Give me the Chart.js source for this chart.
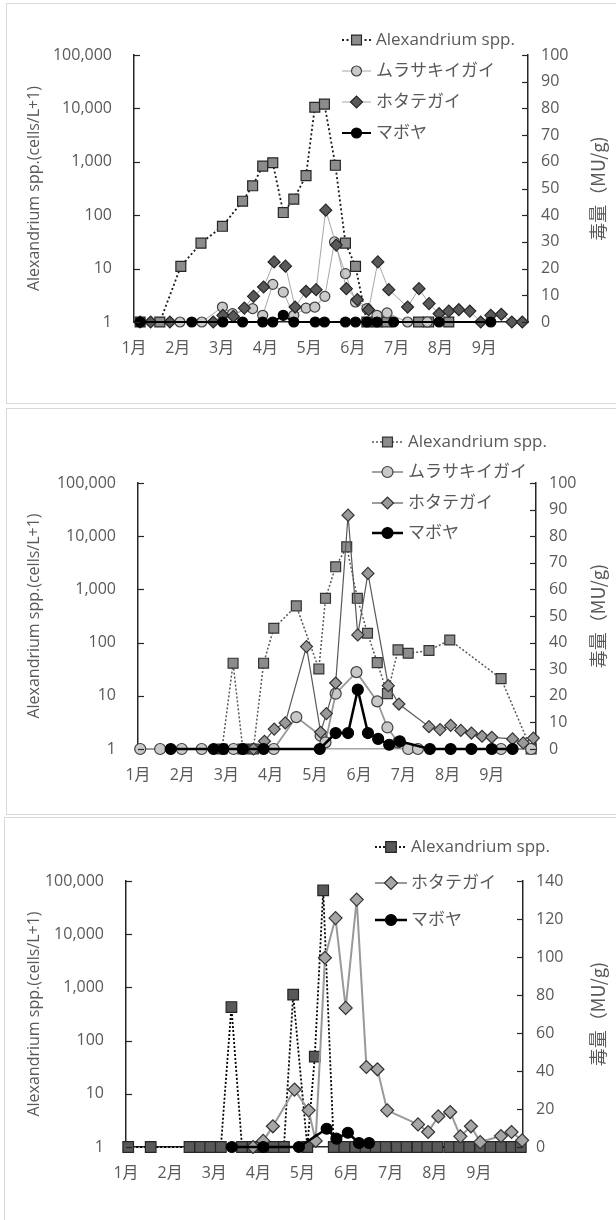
<!DOCTYPE html>
<html lang="ja">
<head>
<meta charset="utf-8">
<title>Alexandrium spp. と貝毒量</title>
<script src="https://cdn.jsdelivr.net/npm/chart.js@4.4.1/dist/chart.umd.min.js"></script>
<style>
  html, body { margin: 0; padding: 0; background: #fff; }
  body { width: 616px; height: 1220px; position: relative; overflow: hidden; }
  .panel { position: absolute; border: 1px solid #d9d9d9; box-sizing: border-box; }
  canvas { position: absolute; left: 0; }
</style>
</head>
<body>
<div class="panel" style="left:6px;top:3px;width:620px;height:401px"></div>
<div class="panel" style="left:6px;top:408px;width:620px;height:407px"></div>
<div class="panel" style="left:4px;top:817px;width:620px;height:410px"></div>
<canvas id="c1" style="top:0px" width="616" height="405"></canvas>
<canvas id="c2" style="top:405px" width="616" height="410"></canvas>
<canvas id="c3" style="top:815px" width="616" height="405"></canvas>
<script>
// 目盛り
const monthTicks = [1, 2, 3, 4, 5, 6, 7, 8, 9];
const monthLabels = ["1月", "2月", "3月", "4月", "5月", "6月", "7月", "8月", "9月"];
const cellTicks = [1, 10, 100, 1000, 10000, 100000];
const toxinTicksA = [0, 10, 20, 30, 40, 50, 60, 70, 80, 90, 100];
const toxinTicksB = [0, 20, 40, 60, 80, 100, 120, 140];

// 上段
const p1AlexMonth = [1.14, 1.59, 2.07, 2.53, 3.02, 3.48, 3.71, 3.94, 4.17, 4.41, 4.65, 4.93, 5.13, 5.35, 5.60, 5.83, 6.06, 6.32, 6.55, 6.78, 7.50, 7.73, 8.19];
const p1AlexCells = [1, 1, 11, 30, 62, 183, 355, 830, 960, 112, 200, 550, 10500, 12000, 860, 30, 11, 1, 1, 1, 1, 1, 1];
const p1MusselMonth = [2.05, 2.55, 3.02, 3.25, 3.71, 3.94, 4.17, 4.41, 4.65, 4.93, 5.13, 5.36, 5.58, 5.83, 6.06, 6.32, 6.55, 6.78, 7.25, 7.70];
const p1MusselTox = [0, 0, 5.6, 3.1, 5.0, 2.5, 14.1, 11.2, 2.5, 5.2, 5.6, 9.6, 30, 18.1, 7.5, 5, 2.5, 3.4, 0, 0];
const p1ScallopMonth = [1.14, 1.38, 1.82, 2.81, 3.03, 3.27, 3.52, 3.73, 3.96, 4.20, 4.46, 4.68, 4.93, 5.16, 5.38, 5.62, 5.85, 6.10, 6.36, 6.57, 6.82, 7.25, 7.51, 7.74, 7.97, 8.19, 8.42, 8.67, 8.92, 9.15, 9.39, 9.63, 9.87];
const p1ScallopTox = [0, 0, 0, 0, 2.5, 2.1, 5.2, 9.6, 13.1, 22.5, 20.9, 5.6, 11.5, 12.1, 41.9, 28.8, 12.5, 8.4, 4.6, 22.5, 12.1, 5.6, 12.5, 6.9, 3.1, 4.1, 4.6, 4.1, 0, 2.5, 2.9, 0, 0];
const p1AscidianMonth = [1.14, 2.32, 3.03, 3.48, 3.94, 4.17, 4.41, 4.65, 5.14, 5.35, 5.83, 6.06, 6.32, 6.55, 6.93, 7.97, 9.15];
const p1AscidianTox = [0, 0, 0, 0, 0, 0, 2.5, 0, 0, 0, 0, 0, 0, 0, 0, 0, 0];

// 中段
const p2AlexMonth = [2.90, 3.15, 3.37, 3.61, 3.84, 4.07, 4.58, 5.09, 5.24, 5.47, 5.72, 5.96, 6.19, 6.41, 6.64, 6.88, 7.11, 7.58, 8.05, 9.21, 9.89];
const p2AlexCells = [1, 41, 1, 1, 41, 186, 490, 32, 680, 2660, 6300, 680, 150, 42, 11, 73, 63, 71, 112, 21, 1];
const p2MusselMonth = [1.05, 1.50, 1.99, 2.44, 3.16, 3.61, 4.07, 4.58, 5.13, 5.24, 5.47, 5.94, 6.41, 6.64, 6.88, 7.11, 7.33, 9.21, 9.89];
const p2MusselTox = [0, 0, 0, 0, 0, 0, 0, 12, 5, 2.5, 20.8, 28.9, 17.9, 8.1, 2.5, 0, 0, 0, 0];
const p2ScallopMonth = [3.61, 3.86, 4.08, 4.33, 4.81, 5.13, 5.26, 5.47, 5.75, 5.97, 6.20, 6.66, 6.90, 7.58, 7.83, 8.07, 8.30, 8.54, 8.78, 9.00, 9.47, 9.71, 9.94];
const p2ScallopTox = [0, 2.9, 7.5, 9.8, 38.5, 6.3, 13.3, 24.8, 87.9, 42.9, 66, 23.8, 16.9, 8.4, 7.3, 8.9, 7, 6, 4.8, 4.4, 3.8, 2.3, 4.1];
const p2AscidianMonth = [1.74, 2.71, 2.93, 3.37, 3.84, 5.11, 5.47, 5.75, 5.97, 6.20, 6.43, 6.68, 6.92, 7.60, 8.07, 8.54, 9.00, 9.47];
const p2AscidianTox = [0, 0, 0, 0, 0, 0, 6, 6, 22.3, 6, 3.8, 1.6, 2.9, 0, 0, 0, 0, 0];

// 下段
const p3AlexMonth = [1.05, 1.56, 2.44, 2.68, 2.91, 3.15, 3.39, 3.63, 3.87, 4.11, 4.35, 4.58, 4.79, 5.11, 5.28, 5.47, 5.71, 5.95, 6.20, 6.43, 6.66, 6.89, 7.14, 7.36, 7.61, 7.83, 8.06, 8.33, 8.55, 8.78, 9.03, 9.26, 9.50, 9.74, 9.95];
const p3AlexCells = [1, 1, 1, 1, 1, 1, 427, 1, 1, 1, 1, 1, 730, 1, 50, 66800, 1, 1, 1, 1, 1, 1, 1, 1, 1, 1, 1, 1, 1, 1, 1, 1, 1, 1, 1];
const p3ScallopMonth = [3.88, 4.11, 4.33, 4.82, 5.14, 5.30, 5.51, 5.75, 5.98, 6.23, 6.45, 6.70, 6.92, 7.62, 7.85, 8.08, 8.35, 8.58, 8.82, 9.03, 9.50, 9.74, 9.98];
const p3ScallopTox = [0, 3.2, 10.9, 30.2, 19.3, 3.2, 99.6, 120.5, 73.2, 130.2, 42.1, 40.9, 19.3, 11.9, 7.9, 16.1, 18.4, 5.6, 10.9, 2.6, 5.8, 7.9, 3.5];
const p3AscidianMonth = [3.40, 4.11, 4.92, 5.55, 5.77, 6.03, 6.28, 6.51];
const p3AscidianTox = [0, 0, 0, 9.6, 4.4, 7.5, 2.1, 2.1];

const textColor = "#595959";
const tickFont = { family: "'Open Sans', 'Noto Sans CJK JP', sans-serif", size: 16 };

function pts(xs, ys) {
    return xs.map((x, i) => ({ x: x, y: ys[i] }));
}

// マーカー描画（凡例用）
function drawMarker(ctx, ds, x, y) {
    const r = ds.pointRadius;
    ctx.beginPath();
    if (ds.pointStyle === "rect") {
        const s = r * Math.SQRT1_2;
        ctx.rect(x - s, y - s, 2 * s, 2 * s);
    } else if (ds.pointStyle === "rectRot") {
        ctx.moveTo(x - r, y);
        ctx.lineTo(x, y - r);
        ctx.lineTo(x + r, y);
        ctx.lineTo(x, y + r);
        ctx.closePath();
    } else {
        ctx.arc(x, y, r, 0, Math.PI * 2);
    }
    ctx.fillStyle = ds.pointBackgroundColor;
    ctx.fill();
    ctx.lineWidth = ds.pointBorderWidth;
    ctx.strokeStyle = ds.pointBorderColor;
    ctx.stroke();
}

function makeChart(id, cfg) {
    const canvasTop = cfg.canvasTop;
    const H = document.getElementById(id).height;

    // 凡例・軸タイトル・内向き目盛り
    const decor = {
        id: "decor" + id,
        afterDraw(chart) {
            const ctx = chart.ctx;
            const a = chart.chartArea;
            ctx.save();

            ctx.strokeStyle = "#262626";
            ctx.lineWidth = 1.2;
            chart.scales.y.ticks.forEach(t => {
                const py = Math.round(chart.scales.y.getPixelForValue(t.value)) + 0.5;
                ctx.beginPath();
                ctx.moveTo(a.left, py);
                ctx.lineTo(a.left + 6, py);
                ctx.stroke();
            });
            chart.scales.y2.ticks.forEach(t => {
                const py = Math.round(chart.scales.y2.getPixelForValue(t.value)) + 0.5;
                ctx.beginPath();
                ctx.moveTo(a.right - 6, py);
                ctx.lineTo(a.right, py);
                ctx.stroke();
            });

            const midY = (a.top + a.bottom) / 2;
            ctx.fillStyle = textColor;
            ctx.textAlign = "center";
            ctx.textBaseline = "middle";
            ctx.font = "16px 'Open Sans', sans-serif";
            ctx.save();
            ctx.translate(34, midY);
            ctx.rotate(-Math.PI / 2);
            ctx.fillText("Alexandrium spp.(cells/L+1)", 0, 0);
            ctx.restore();
            ctx.font = "18px 'Noto Sans CJK JP', sans-serif";
            ctx.save();
            ctx.translate(598, midY);
            ctx.rotate(-Math.PI / 2);
            ctx.fillText("毒量（MU/g)", 0, 0);
            ctx.restore();

            const lg = cfg.legend;
            lg.items.forEach((it, i) => {
                const ds = chart.data.datasets[it];
                const y = lg.ys[i] - canvasTop;
                ctx.save();
                ctx.strokeStyle = ds.borderColor;
                ctx.lineWidth = ds.borderWidth;
                ctx.setLineDash(ds.borderDash || []);
                ctx.beginPath();
                ctx.moveTo(lg.x0, y);
                ctx.lineTo(lg.x1, y);
                ctx.stroke();
                ctx.restore();
                drawMarker(ctx, ds, (lg.x0 + lg.x1) / 2, y);
                ctx.fillStyle = textColor;
                ctx.textAlign = "left";
                ctx.textBaseline = "middle";
                ctx.font = "17px 'Open Sans', 'Noto Sans CJK JP', sans-serif";
                ctx.fillText(ds.label, lg.tx, y);
            });
            ctx.restore();
        }
    };

    return new Chart(document.getElementById(id), {
        type: "line",
        data: { datasets: cfg.datasets },
        options: {
            responsive: false,
            animation: false,
            layout: { padding: { top: cfg.plot.top - canvasTop, left: 0, right: 0, bottom: 0 } },
            plugins: { legend: { display: false }, tooltip: { enabled: false } },
            elements: { line: { tension: 0 } },
            scales: {
                x: {
                    type: "linear",
                    min: 1,
                    max: 10,
                    afterBuildTicks: s => { s.ticks = monthTicks.map(v => ({ value: v })); },
                    ticks: { callback: (v, i) => monthLabels[i], font: tickFont, color: textColor, padding: 17, maxRotation: 0, autoSkip: false },
                    grid: { display: false, drawTicks: false },
                    border: { display: true, color: cfg.xAxisColor, width: 1.5 },
                    afterFit: s => { s.height = H - (cfg.plot.bottom - canvasTop); }
                },
                y: {
                    type: "logarithmic",
                    position: "left",
                    min: 1,
                    max: 100000,
                    afterBuildTicks: s => { s.ticks = cellTicks.map(v => ({ value: v })); },
                    ticks: { callback: v => Number(v).toLocaleString("en-US"), font: tickFont, color: textColor, padding: 22 },
                    grid: { display: false, drawTicks: false },
                    border: { display: true, color: "#262626", width: 1.5 },
                    afterFit: s => { s.width = cfg.plot.left; }
                },
                y2: {
                    type: "linear",
                    position: "right",
                    min: 0,
                    max: cfg.toxinTicks[cfg.toxinTicks.length - 1],
                    afterBuildTicks: s => { s.ticks = cfg.toxinTicks.map(v => ({ value: v })); },
                    ticks: { font: tickFont, color: textColor, padding: 13 },
                    grid: { display: false, drawTicks: false },
                    border: { display: true, color: "#262626", width: 1.5 },
                    afterFit: s => { s.width = 616 - cfg.plot.right; }
                }
            }
        },
        plugins: [decor]
    });
}

function series(label, data, axis, order, st) {
    return Object.assign({
        label: label,
        data: data,
        yAxisID: axis,
        order: order,
        clip: false,
        fill: false,
        pointBorderWidth: 1.2
    }, st);
}

// 上段
makeChart("c1", {
    canvasTop: 0,
    plot: { top: 55, bottom: 322, left: 134, right: 528 },
    toxinTicks: toxinTicksA,
    xAxisColor: "#262626",
    legend: { items: [0, 1, 2, 3], ys: [40, 71, 102, 133], x0: 342, x1: 371, tx: 376 },
    datasets: [
        series("Alexandrium spp.", pts(p1AlexMonth, p1AlexCells), "y", 4, {
            borderColor: "#1a1a1a", borderWidth: 1.8, borderDash: [2, 2.5],
            pointStyle: "rect", pointRadius: 7, pointBackgroundColor: "#8c8c8c", pointBorderColor: "#262626"
        }),
        series("ムラサキイガイ", pts(p1MusselMonth, p1MusselTox), "y2", 3, {
            borderColor: "#a6a6a6", borderWidth: 1,
            pointStyle: "circle", pointRadius: 5, pointBackgroundColor: "#c9c9c9", pointBorderColor: "#404040"
        }),
        series("ホタテガイ", pts(p1ScallopMonth, p1ScallopTox), "y2", 2, {
            borderColor: "#a6a6a6", borderWidth: 1,
            pointStyle: "rectRot", pointRadius: 6, pointBackgroundColor: "#595959", pointBorderColor: "#262626"
        }),
        series("マボヤ", pts(p1AscidianMonth, p1AscidianTox), "y2", 1, {
            borderColor: "#000000", borderWidth: 2,
            pointStyle: "circle", pointRadius: 5, pointBackgroundColor: "#000000", pointBorderColor: "#000000"
        })
    ]
});

// 中段
makeChart("c2", {
    canvasTop: 405,
    plot: { top: 483, bottom: 749, left: 138, right: 536 },
    toxinTicks: toxinTicksA,
    xAxisColor: "#a6a6a6",
    legend: { items: [0, 1, 2, 3], ys: [442, 472, 503, 533], x0: 372, x1: 403, tx: 408 },
    datasets: [
        series("Alexandrium spp.", pts(p2AlexMonth, p2AlexCells), "y", 4, {
            borderColor: "#595959", borderWidth: 1.5, borderDash: [2, 2],
            pointStyle: "rect", pointRadius: 7, pointBackgroundColor: "#8c8c8c", pointBorderColor: "#333333"
        }),
        series("ムラサキイガイ", pts(p2MusselMonth, p2MusselTox), "y2", 3, {
            borderColor: "#999999", borderWidth: 1.8,
            pointStyle: "circle", pointRadius: 5.5, pointBackgroundColor: "#c8c8c8", pointBorderColor: "#404040"
        }),
        series("ホタテガイ", pts(p2ScallopMonth, p2ScallopTox), "y2", 2, {
            borderColor: "#595959", borderWidth: 1.2,
            pointStyle: "rectRot", pointRadius: 6, pointBackgroundColor: "#999999", pointBorderColor: "#333333"
        }),
        series("マボヤ", pts(p2AscidianMonth, p2AscidianTox), "y2", 1, {
            borderColor: "#000000", borderWidth: 2.5,
            pointStyle: "circle", pointRadius: 5.5, pointBackgroundColor: "#000000", pointBorderColor: "#000000"
        })
    ]
});

// 下段
makeChart("c3", {
    canvasTop: 815,
    plot: { top: 881, bottom: 1147, left: 126, right: 523 },
    toxinTicks: toxinTicksB,
    xAxisColor: "#262626",
    legend: { items: [0, 1, 2], ys: [847, 883, 920], x0: 375, x1: 407, tx: 411 },
    datasets: [
        series("Alexandrium spp.", pts(p3AlexMonth, p3AlexCells), "y", 3, {
            borderColor: "#000000", borderWidth: 1.8, borderDash: [2, 2],
            pointStyle: "rect", pointRadius: 7.5, pointBackgroundColor: "#595959", pointBorderColor: "#262626"
        }),
        series("ホタテガイ", pts(p3ScallopMonth, p3ScallopTox), "y2", 2, {
            borderColor: "#999999", borderWidth: 2,
            pointStyle: "rectRot", pointRadius: 6.5, pointBackgroundColor: "#a6a6a6", pointBorderColor: "#333333"
        }),
        series("マボヤ", pts(p3AscidianMonth, p3AscidianTox), "y2", 1, {
            borderColor: "#000000", borderWidth: 2.5,
            pointStyle: "circle", pointRadius: 5.5, pointBackgroundColor: "#000000", pointBorderColor: "#000000"
        })
    ]
});
</script>
</body>
</html>
